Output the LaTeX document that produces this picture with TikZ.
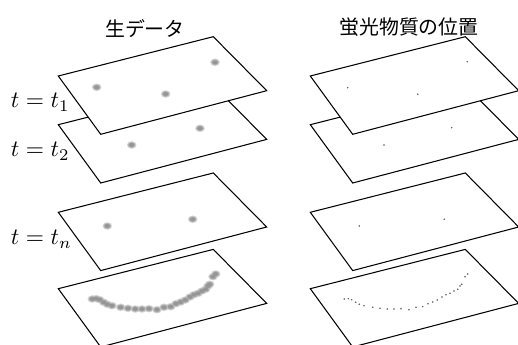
\documentclass[tikz,border=0pt]{standalone}
\usepackage{fontspec}
\newfontfamily\jpfont{Noto Sans CJK JP}
\tikzset{
  planestyle/.style={draw=black, line width=0.45pt, fill=white, line join=miter},
  titlestyle/.style={inner sep=0pt, font=\jpfont\fontsize{8.5}{10}\selectfont},
  tlabel/.style={inner sep=0pt, anchor=base west},
}
\newcommand\myplane[2]{%
  \draw[planestyle] (58.3+#1,76+#2) -- (213.3+#1,36.7+#2) -- (266.7+#1,90.7+#2) -- (100.7+#1,134.3+#2) -- cycle;}
\newcommand\myblob[2]{%
  \fill[gray!32] (#1,#2) ellipse [x radius=4.8, y radius=3.8];}
\newcommand\myblobb[2]{%
  \fill[gray!58] (#1,#2) ellipse [x radius=3.8, y radius=2.9];}
\newcommand\myblobc[2]{%
  \fill[gray!82] (#1,#2) ellipse [x radius=2.7, y radius=2.0];}
\newcommand\mydot[2]{%
  \fill[black!65] (#1,#2) circle (0.85);}
\newcommand\blobset[1]{%
  \foreach \px/\py in {#1} {\myblob{\px}{\py}}
  \foreach \px/\py in {#1} {\myblobb{\px}{\py}}
  \foreach \px/\py in {#1} {\myblobc{\px}{\py}}}
\begin{document}
\begin{tikzpicture}[x=0.4274pt,y=-0.4274pt]
\useasboundingbox (0,0) rectangle (518,345);
% titles
\node[titlestyle] (raw) at (145,28.5) {生データ};
\node[titlestyle] (pos) at (409,27.5) {蛍光物質の位置};
% ---- left column ----
\myplane{0}{212.7}
\blobset{92.3/299,96.3/298.7,99.7/299.7,103.7/302.3,107.3/304.3,112/305.7,120.7/307.3,128/308.3,135.3/309,142/309,149/308.7,157/309.7,164/307.3,170.7/306.7,176/303.7,180.7/302,185.3/300,190/297,194/294.7,198/293.3,202/291,205.7/289.3,208/286,209.7/284.3,213/276.7,215.7/274}
\myplane{0}{136.3}
\blobset{107.3/226,192.7/219.3}
\myplane{0}{48.7}
\blobset{131.7/145,200/128.3}
\myplane{0}{0}
\blobset{96.7/87.3,165.7/94,215/62.3}
% ---- right column ----
\myplane{252}{212.7}
\foreach \px/\py in {344.3/299,348.3/298.7,351.7/299.7,355.7/302.3,359.3/304.3,364/305.7,372.7/307.3,380/308.3,387.3/309,394/309,401/308.7,409/309.7,416/307.3,422.7/306.7,428/303.7,432.7/302,437.3/300,442/297,446/294.7,450/293.3,454/291,457.7/289.3,460/286,461.7/284.3,465/276.7,467.7/274} {\mydot{\px}{\py}}
\myplane{252}{136.3}
\mydot{359.3}{226}\mydot{444.3}{219.3}
\myplane{252}{48.7}
\mydot{384}{145}\mydot{451.7}{127.7}
\myplane{252}{0}
\mydot{347.7}{87.7}\mydot{417.7}{94.3}\mydot{467.3}{61.7}
% labels
\node[tlabel] (l1) at (10.5,107.5) {$t=t_1$};
\node[tlabel] (l2) at (10.5,156.5) {$t=t_2$};
\node[tlabel] (ln) at (10.5,245) {$t=t_n$};
\end{tikzpicture}
\end{document}
